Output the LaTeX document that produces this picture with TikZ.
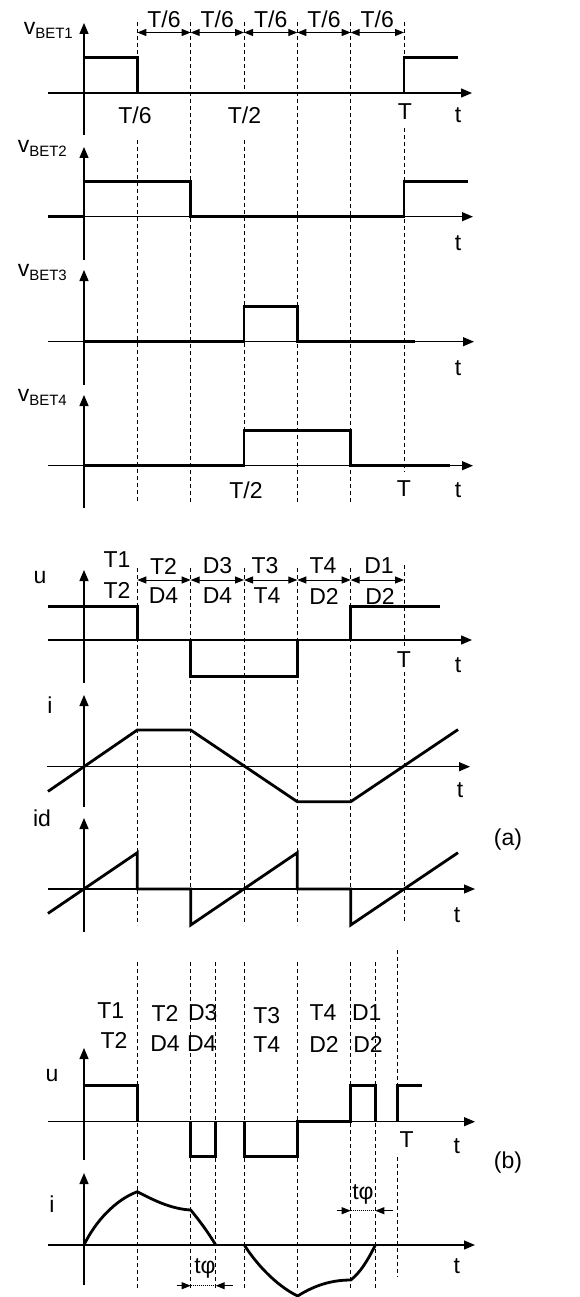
\documentclass[tikz,border=0pt]{standalone}
\usepackage{fontspec}
\setmainfont{Liberation Sans}
\usetikzlibrary{arrows.meta}
\begin{document}
\begin{tikzpicture}[x=1pt,y=-1pt,
  wave/.style={line width=2.8pt, line join=miter, line cap=butt},
  axis/.style={line width=1.3pt, -{Triangle[length=11pt,width=9pt]}},
  axline/.style={line width=1.3pt},
  guide/.style={line width=0.9pt, dash pattern=on 4pt off 3pt},
  dim/.style={line width=1pt, {Triangle[length=9pt,width=7pt]}-{Triangle[length=9pt,width=7pt]}},
  dimone/.style={line width=1pt, -{Triangle[length=9pt,width=7pt]}},
  dotl/.style={line width=0.9pt, dash pattern=on 1pt off 1pt},
  lbl/.style={inner sep=0pt, font=\fontsize{23}{27}\selectfont},
  subl/.style={inner sep=0pt, font=\fontsize{23}{27}\selectfont, anchor=base east}]
\useasboundingbox (0,0) rectangle (580,1297);
\newcommand{\sbt}[1]{\raisebox{-4pt}{\fontsize{15}{17}\selectfont #1}}

% ---------- guide lines, top section ----------
\foreach \gx/\ya/\yb in {137.3/22/93, 137.3/140/502, 190.7/22/502, 244/22/93, 244/140/466,
  297.3/22/502, 350.7/22/502, 404/22/93, 404/128/472}
  \draw[guide] (\gx,\ya) -- (\gx,\yb);
% ---------- guide lines, section (a) ----------
\foreach \gx/\ya/\yb in {137.3/568/925, 190.7/568/925, 244/568/925, 297.3/568/925,
  350.7/568/925, 404/565/648, 404/672/923}
  \draw[guide] (\gx,\ya) -- (\gx,\yb);
% ---------- guide lines, section (b) ----------
\foreach \gx/\ya/\yb in {137.3/962/1290, 190.7/962/1290, 215.7/962/1290, 244.3/962/1290,
  297.7/962/1290, 350.7/962/1290, 375.3/962/1290, 397.3/950/1115, 397.3/1157/1277}
  \draw[guide] (\gx,\ya) -- (\gx,\yb);

% ---------- top dimension arrows ----------
\foreach \xa/\xb in {137.3/190.7, 190.7/244, 244/297.3, 297.3/350.7, 350.7/404}
  \draw[dim] (\xa,32.5) -- (\xb,32.5);
\foreach \cx [count=\k] in {164, 217.3, 270.7, 324, 377.3}
  \node[lbl] (tsix\k) at (\cx,19) {T/6};

% ---------- panel vBET1 ----------
\draw[axis] (84,135) -- (84,23);
\draw[axis] (48,93) -- (472,93);
\draw[wave] (48,93) -- (84,93) -- (84,57.7) -- (137.3,57.7) -- (137.3,93) -- (404,93) -- (404,57.7) -- (458,57.7);
\node[subl] (v1) at (73,35) {v\sbt{BET1}};
\node[lbl] (p1a) at (135,115) {T/6};
\node[lbl] (p1b) at (244.5,115) {T/2};
\node[lbl] (p1c) at (405,112) {T};
\node[lbl] (p1t) at (458,115) {t};

% ---------- panel vBET2 ----------
\draw[axis] (84,260) -- (84,147);
\draw[axis] (48,216.7) -- (473,216.7);
\draw[wave] (48,216.7) -- (84,216.7) -- (84,181.7) -- (190.7,181.7) -- (190.7,216.7) -- (404,216.7) -- (404,181.7) -- (468,181.7);
\node[subl] (v2) at (67,153) {v\sbt{BET2}};
\node[lbl] (p2t) at (458,243) {t};

% ---------- panel vBET3 ----------
\draw[axis] (84,385) -- (84,270);
\draw[axis] (48,341.7) -- (474,341.7);
\draw[wave] (84,341.7) -- (244,341.7) -- (244,306.7) -- (297.3,306.7) -- (297.3,341.7) -- (415,341.7);
\node[subl] (v3) at (67,276.5) {v\sbt{BET3}};
\node[lbl] (p3t) at (458,368) {t};

% ---------- panel vBET4 ----------
\draw[axis] (84,508) -- (84,395);
\draw[axis] (48,465.7) -- (473,465.7);
\draw[wave] (84,465.7) -- (244,465.7) -- (244,430.7) -- (350.7,430.7) -- (350.7,465.7) -- (450,465.7);
\node[subl] (v4) at (67,401.7) {v\sbt{BET4}};
\node[lbl] (p4a) at (246,490) {T/2};
\node[lbl] (p4b) at (404,489) {T};
\node[lbl] (p4t) at (458,490) {t};

% ---------- (a) u ----------
\foreach \xa/\xb in {137.3/190.7, 190.7/244, 244/297.3, 297.3/350.7, 350.7/404}
  \draw[dim] (\xa,580) -- (\xb,580);
\node[lbl] (aT1) at (117,560) {T1};
\node[lbl] (aT2) at (117,590) {T2};
\node[lbl] (au1) at (163.5,566) {T2};
\node[lbl] (al1) at (163.5,596) {D4};
\node[lbl] (au2) at (217.5,566) {D3};
\node[lbl] (al2) at (217.5,596) {D4};
\node[lbl] (au3) at (265,566) {T3};
\node[lbl] (al3) at (267,596) {T4};
\node[lbl] (au4) at (323,566) {T4};
\node[lbl] (al4) at (324,596) {D2};
\node[lbl] (au5) at (379,566) {D1};
\node[lbl] (al5) at (380,596) {D2};
\draw[axis] (84,683) -- (84,570);
\draw[axis] (48,640) -- (472,640);
\draw[wave] (48,606.7) -- (137.3,606.7) -- (137.3,640) -- (190.7,640) -- (190.7,676.7) -- (297.3,676.7) -- (297.3,640) -- (350.7,640) -- (350.7,606.7) -- (440,606.7);
\node[lbl] (au) at (40,578) {u};
\node[lbl] (aT) at (404,660) {T};
\node[lbl] (at) at (458,665) {t};

% ---------- (a) i ----------
\draw[axis] (84,807) -- (84,695);
\draw[axis] (47,766.7) -- (470,766.7);
\draw[wave] (48,791.4) -- (137.3,730) -- (190.7,730) -- (297.3,801.7) -- (350.7,801.7) -- (458,729.6);
\node[lbl] (ai) at (50,705) {i};
\node[lbl] (ait) at (460,790) {t};

% ---------- (a) id ----------
\draw[axis] (84,932) -- (84,818);
\draw[axis] (48,889) -- (475,889);
\draw[wave] (48,913.4) -- (137.3,852.7) -- (137.3,889) -- (190.7,889) -- (190.7,925) -- (297.3,852.7) -- (297.3,889) -- (350.7,889) -- (350.7,925) -- (458,852.7);
\node[lbl] (aid) at (42,818) {id};
\node[lbl] (aidt) at (457,915) {t};
\node[lbl] (alab) at (508,840) {(a)};

% ---------- (b) labels ----------
\node[lbl] (bT1) at (110.7,1011) {T1};
\node[lbl] (bT2) at (114,1040) {T2};
\node[lbl] (bu1) at (165,1013) {T2};
\node[lbl] (bl1) at (165,1044) {D4};
\node[lbl] (bu2) at (202.7,1013) {D3};
\node[lbl] (bl2) at (201.7,1044) {D4};
\node[lbl] (bu3) at (266.7,1016) {T3};
\node[lbl] (bl3) at (266.7,1045) {T4};
\node[lbl] (bu4) at (323,1013) {T4};
\node[lbl] (bl4) at (324,1044) {D2};
\node[lbl] (bu5) at (366.7,1013) {D1};
\node[lbl] (bl5) at (368,1044) {D2};

% ---------- (b) u ----------
\draw[axis] (84,1160) -- (84,1048);
\draw[axis] (48,1121.7) -- (475,1121.7);
\draw[wave] (84,1085.7) -- (137.3,1085.7) -- (137.3,1121.7);
\draw[wave] (190.7,1121.7) -- (190.7,1156.7) -- (215.7,1156.7) -- (215.7,1121.7);
\draw[wave] (244.3,1121.7) -- (244.3,1156.7) -- (297.7,1156.7) -- (297.7,1121.7) -- (350.7,1121.7) -- (350.7,1085.7) -- (375.3,1085.7) -- (375.3,1121.7);
\draw[wave] (397.3,1121.7) -- (397.3,1085.7) -- (422.3,1085.7);
\node[lbl] (bu) at (52,1076) {u};
\node[lbl] (bT) at (406.7,1140) {T};
\node[lbl] (bt) at (456.7,1146) {t};

% ---------- (b) i ----------
\draw[axis] (84,1285) -- (84,1173);
\draw[axis] (48,1245) -- (475,1245);
\draw[wave] (84,1245) .. controls (95,1222) and (115,1200) .. (137.3,1191.7)
  .. controls (155,1201) and (172,1209) .. (190.7,1210)
  .. controls (199,1220) and (208,1232) .. (215.7,1245);
\draw[wave] (244.3,1245) .. controls (255,1262) and (275,1285) .. (297.7,1296)
  .. controls (315,1285) and (332,1280) .. (350.7,1280)
  .. controls (360,1273) and (368,1260) .. (375.3,1245);
\node[lbl] (bi) at (52,1204) {i};
\node[lbl] (bit) at (456.7,1266) {t};
\node[lbl] (blab) at (508,1163) {(b)};

% ---------- t-phi markers ----------
\coordinate (p1) at (176.7,1285.7);
\coordinate (p2) at (190.7,1285.7);
\coordinate (p3) at (215.7,1285.7);
\coordinate (p4) at (233,1285.7);
\draw[dimone] (p1) -- (p2);
\draw[dotl] (p2) -- (p3);
\draw[dimone] (p4) -- (p3);
\node[lbl, anchor=base] (tp1) at (205,1273) {tφ};
\coordinate (q1) at (336.7,1210.7);
\coordinate (q2) at (350.7,1210.7);
\coordinate (q3) at (375.3,1210.7);
\coordinate (q4) at (393,1210.7);
\draw[dimone] (q1) -- (q2);
\draw[dotl] (q2) -- (q3);
\draw[dimone] (q4) -- (q3);
\node[lbl, anchor=base] (tp2) at (363,1199) {tφ};
\end{tikzpicture}
\end{document}
